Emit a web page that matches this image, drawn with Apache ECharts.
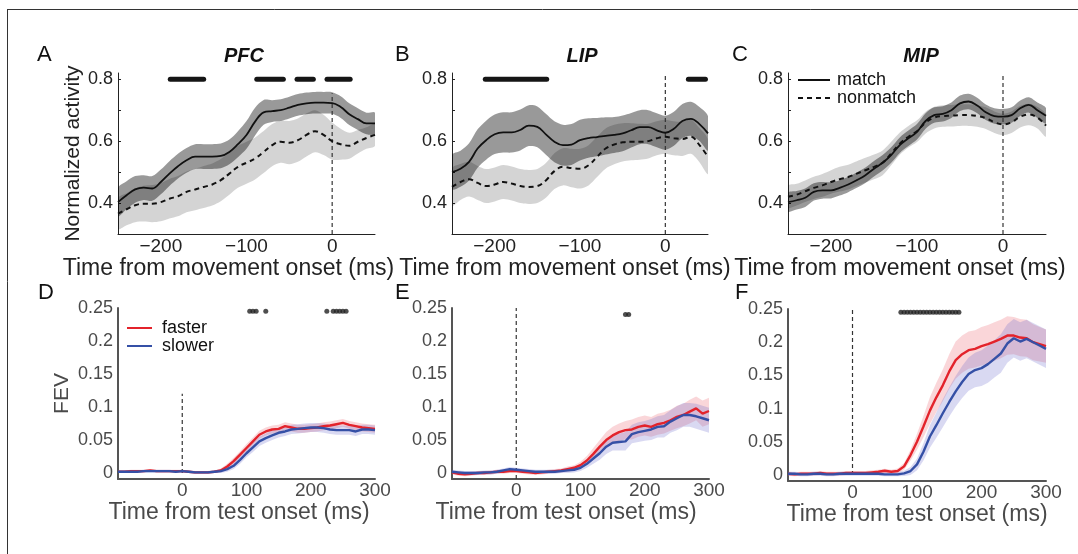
<!DOCTYPE html>
<html>
<head>
<meta charset="utf-8">
<script src="https://cdn.jsdelivr.net/npm/echarts@6/dist/echarts.min.js"></script>
<style>
  html, body { margin: 0; padding: 0; background: #fff; }
  #chart { width: 1078px; height: 554px; }
</style>
</head>
<body>
<div id="chart"></div>
<script>
// time bases
const tTop = [-250,-240,-230,-220,-210,-200,-190,-180,-170,-160,-150,-140,-130,-120,-110,-100,
  -90,-80,-70,-60,-50,-40,-30,-20,-10,0,10,20,30,40,50];
const tBot = [-100,-90,-80,-70,-60,-50,-40,-30,-20,-10,0,10,20,30,40,50,60,70,80,90,100,
  110,120,130,140,150,160,170,180,190,200,210,220,230,240,250,260,270,280,290,300];

// top row: normalized activity (match / nonmatch) with SEM
const pfcMatch = [0.403,0.425,0.444,0.45,0.447,0.468,0.495,0.519,0.538,0.55,0.55,0.55,0.552,0.565,0.59,0.62,
  0.663,0.693,0.697,0.70,0.708,0.717,0.722,0.724,0.724,0.723,0.71,0.687,0.671,0.657,0.657];
const pfcMatchErr = [0.045,0.045,0.043,0.04,0.04,0.04,0.04,0.04,0.04,0.04,0.04,0.04,0.04,0.04,0.042,0.045,
  0.045,0.04,0.035,0.035,0.035,0.035,0.035,0.035,0.035,0.035,0.035,0.035,0.035,0.035,0.035];
const pfcNon = [0.366,0.38,0.393,0.398,0.398,0.403,0.414,0.422,0.436,0.444,0.452,0.46,0.474,0.495,0.517,0.53,
  0.544,0.565,0.587,0.598,0.595,0.603,0.62,0.632,0.62,0.60,0.59,0.585,0.598,0.61,0.62];
const pfcNonErr = [0.05,0.052,0.055,0.058,0.06,0.062,0.064,0.065,0.066,0.067,0.068,0.068,0.068,0.068,0.068,0.068,
  0.068,0.068,0.068,0.068,0.07,0.07,0.07,0.068,0.065,0.06,0.05,0.042,0.038,0.035,0.035];

const lipMatch = [0.5,0.511,0.533,0.576,0.603,0.622,0.628,0.628,0.636,0.65,0.646,0.622,0.598,0.587,0.589,0.603,
  0.61,0.613,0.617,0.62,0.625,0.635,0.645,0.645,0.635,0.627,0.64,0.665,0.672,0.655,0.625];
const lipMatchErr = [0.055,0.058,0.06,0.062,0.063,0.064,0.065,0.065,0.066,0.066,0.066,0.066,0.066,0.066,0.066,0.066,
  0.064,0.062,0.06,0.058,0.058,0.056,0.055,0.055,0.055,0.055,0.055,0.055,0.055,0.055,0.055];
const lipNon = [0.452,0.468,0.477,0.465,0.455,0.46,0.468,0.463,0.455,0.452,0.455,0.473,0.503,0.517,0.513,0.511,
  0.522,0.549,0.576,0.589,0.596,0.598,0.598,0.6,0.609,0.614,0.609,0.607,0.614,0.587,0.549];
const lipNonErr = [0.06,0.058,0.056,0.055,0.055,0.055,0.055,0.055,0.055,0.055,0.055,0.056,0.058,0.06,0.062,0.064,
  0.065,0.065,0.065,0.064,0.062,0.06,0.058,0.056,0.055,0.055,0.055,0.055,0.055,0.055,0.055];

const mipMatch = [0.403,0.409,0.417,0.436,0.441,0.441,0.449,0.46,0.474,0.49,0.511,0.53,0.555,0.587,0.609,0.63,
  0.665,0.684,0.688,0.70,0.722,0.728,0.715,0.693,0.681,0.679,0.684,0.706,0.717,0.70,0.682];
const mipMatchErr = [0.03,0.03,0.03,0.028,0.027,0.026,0.025,0.025,0.025,0.025,0.025,0.025,0.025,0.025,0.025,0.025,
  0.025,0.025,0.025,0.025,0.025,0.025,0.025,0.025,0.025,0.025,0.025,0.025,0.025,0.025,0.025];
const mipNon = [0.42,0.427,0.438,0.449,0.457,0.468,0.477,0.484,0.495,0.506,0.517,0.53,0.56,0.592,0.614,0.632,
  0.66,0.676,0.681,0.682,0.684,0.684,0.681,0.674,0.661,0.654,0.661,0.679,0.686,0.676,0.65];
const mipNonErr = [0.035,0.035,0.035,0.036,0.037,0.038,0.04,0.04,0.04,0.04,0.04,0.04,0.038,0.036,0.035,0.035,
  0.035,0.035,0.035,0.035,0.035,0.035,0.035,0.035,0.035,0.035,0.035,0.035,0.035,0.035,0.035];

// bottom row: FEV for faster / slower
const pfcFast = [0.002,0.002,0.003,0.003,0.003,0.004,0.003,0.003,0.003,0.003,0.003,0.002,0.001,0.001,0.001,0.002,
  0.004,0.01,0.018,0.028,0.038,0.048,0.058,0.063,0.066,0.067,0.071,0.069,0.067,0.067,0.068,0.069,0.071,0.072,
  0.074,0.076,0.073,0.071,0.069,0.068,0.067];
const pfcFastErr = [0.002,0.002,0.002,0.002,0.002,0.002,0.002,0.002,0.002,0.002,0.002,0.002,0.002,0.002,0.002,0.002,
  0.003,0.004,0.005,0.005,0.006,0.006,0.006,0.006,0.006,0.006,0.006,0.006,0.006,0.006,0.006,0.006,0.006,0.006,
  0.006,0.006,0.006,0.006,0.006,0.006,0.006];
const pfcSlow = [0.002,0.002,0.002,0.002,0.003,0.003,0.003,0.003,0.003,0.002,0.003,0.002,0.001,0.001,0.001,0.002,
  0.003,0.006,0.011,0.02,0.03,0.039,0.048,0.053,0.057,0.061,0.063,0.066,0.067,0.068,0.069,0.069,0.068,0.066,
  0.065,0.065,0.065,0.063,0.066,0.066,0.065];
const pfcSlowErr = [0.002,0.002,0.002,0.002,0.002,0.002,0.002,0.002,0.002,0.002,0.002,0.002,0.002,0.002,0.002,0.002,
  0.003,0.004,0.005,0.006,0.006,0.007,0.007,0.007,0.007,0.007,0.007,0.007,0.007,0.007,0.007,0.007,0.007,0.007,
  0.007,0.007,0.007,0.007,0.007,0.007,0.007];

const lipFast = [0.001,-0.001,-0.002,-0.001,0.0,0.0,0.001,0.002,0.002,0.003,0.003,0.002,0.001,0.0,0.001,0.002,
  0.003,0.004,0.006,0.008,0.012,0.019,0.029,0.04,0.05,0.057,0.062,0.065,0.066,0.07,0.072,0.07,0.074,0.076,
  0.08,0.085,0.088,0.093,0.098,0.09,0.094];
const lipFastErr = [0.003,0.003,0.003,0.003,0.003,0.003,0.003,0.003,0.003,0.003,0.003,0.003,0.003,0.003,0.003,0.003,
  0.003,0.003,0.004,0.004,0.005,0.007,0.009,0.01,0.012,0.013,0.013,0.014,0.015,0.015,0.015,0.015,0.016,0.016,
  0.016,0.017,0.017,0.018,0.018,0.02,0.02];
const lipSlow = [0.002,0.001,0.0,0.0,0.0,0.001,0.001,0.002,0.004,0.006,0.005,0.004,0.003,0.002,0.002,0.002,
  0.002,0.003,0.004,0.005,0.008,0.014,0.022,0.03,0.04,0.046,0.047,0.048,0.059,0.062,0.064,0.066,0.07,0.071,
  0.078,0.083,0.088,0.088,0.086,0.083,0.08];
const lipSlowErr = [0.003,0.003,0.003,0.003,0.003,0.003,0.003,0.003,0.003,0.003,0.003,0.003,0.003,0.003,0.003,0.003,
  0.003,0.003,0.004,0.004,0.005,0.006,0.008,0.01,0.011,0.012,0.013,0.014,0.014,0.015,0.015,0.016,0.016,0.017,
  0.017,0.018,0.018,0.018,0.019,0.019,0.019];

const mipFast = [0.002,0.001,0.002,0.002,0.002,0.003,0.002,0.002,0.002,0.003,0.003,0.003,0.003,0.004,0.005,0.0065,
  0.005,0.006,0.013,0.03,0.05,0.073,0.097,0.117,0.135,0.156,0.173,0.182,0.188,0.19,0.194,0.197,0.201,0.205,
  0.21,0.21,0.207,0.206,0.2,0.197,0.194];
const mipFastErr = [0.003,0.003,0.003,0.003,0.003,0.003,0.003,0.003,0.003,0.003,0.003,0.003,0.003,0.003,0.003,0.003,
  0.003,0.004,0.005,0.008,0.012,0.016,0.02,0.022,0.024,0.026,0.028,0.028,0.028,0.028,0.029,0.029,0.029,0.029,
  0.029,0.028,0.028,0.028,0.027,0.026,0.025];
const mipSlow = [0.002,0.002,0.001,0.001,0.002,0.002,0.001,0.001,0.002,0.002,0.002,0.002,0.002,0.002,0.002,0.001,
  0.001,0.001,0.0025,0.006,0.016,0.035,0.058,0.075,0.093,0.11,0.126,0.14,0.152,0.158,0.161,0.167,0.175,0.183,
  0.198,0.206,0.201,0.205,0.2,0.195,0.19];
const mipSlowErr = [0.003,0.003,0.003,0.003,0.003,0.003,0.003,0.003,0.003,0.003,0.003,0.003,0.003,0.003,0.003,0.003,
  0.003,0.003,0.004,0.006,0.009,0.013,0.017,0.019,0.021,0.022,0.023,0.024,0.025,0.026,0.027,0.028,0.028,0.029,
  0.029,0.029,0.029,0.029,0.029,0.029,0.029];

// significance markers
const sigPfc = [[-189,-150],[-88,-57],[-41,-22],[-6,21]];
const sigLip = [[-211,-139],[27,47]];
const dotsPfc = [105,110,115,130,225,235,240,245,250,255];
const dotsLip = [170,175];
const dotsMip = [75,80,85,90,95,100,105,110,115,120,125,130,135,140,145,150,155,160,165];

const FONT = '"Liberation Sans", Arial, Helvetica, sans-serif';
const RED = '#e3232b';
const BLUE = '#3550a6';

const grids = [
  { left: 118, top: 73, width: 257, height: 161 },
  { left: 452, top: 73, width: 256, height: 161 },
  { left: 788, top: 73, width: 258, height: 161 },
  { left: 118, top: 308, width: 257, height: 171 },
  { left: 452, top: 308, width: 257, height: 171 },
  { left: 788, top: 309, width: 258, height: 172 }
];
// axis titles sit a little left of the plot centre in the figure
const nameShift = [36, 30, 34, 15, 29, 0];

const minus = v => String(v).replace('-', '\u2212');

const xAxes = [];
const yAxes = [];
for (let i = 0; i < 3; i++) {
  xAxes.push({
    gridIndex: i, type: 'value', min: -250, max: 50,
    axisLine: { show: true, onZero: false, lineStyle: { color: '#222', width: 1 } },
    axisTick: { show: false }, splitLine: { show: false },
    axisLabel: { customValues: [-200, -100, 0], formatter: minus, color: '#222', fontSize: 19, margin: 3, fontFamily: FONT },
    name: 'Time from movement onset (ms)', nameLocation: 'middle', nameGap: 5,
    nameTextStyle: { fontSize: 23, color: '#222', fontFamily: FONT, padding: [0, nameShift[i], 0, 0] }
  });
  yAxes.push({
    gridIndex: i, type: 'value', min: 0.3, max: 0.82,
    axisLine: { show: true, onZero: false, lineStyle: { color: '#222', width: 1 } },
    axisTick: { show: true, inside: true, length: 3, customValues: [0.3, 0.4, 0.5, 0.6, 0.7, 0.8], lineStyle: { color: '#222' } },
    splitLine: { show: false },
    axisLabel: { customValues: [0.4, 0.6, 0.8], formatter: v => v.toFixed(1), color: '#222', fontSize: 18, margin: 5, fontFamily: FONT },
    name: i === 0 ? 'Normalized activity' : '', nameLocation: 'middle', nameGap: 33,
    nameTextStyle: { fontSize: 21, color: '#222', fontFamily: FONT }
  });
}
for (let i = 3; i < 6; i++) {
  xAxes.push({
    gridIndex: i, type: 'value', min: -100, max: 300,
    axisLine: { show: true, onZero: false, lineStyle: { color: '#555', width: 2 } },
    axisTick: { show: false }, splitLine: { show: false },
    axisLabel: { customValues: [0, 100, 200, 300], color: '#4a4a4a', fontSize: 19, margin: 2, fontFamily: FONT },
    name: 'Time from test onset (ms)', nameLocation: 'middle', nameGap: 7,
    nameTextStyle: { fontSize: 23, color: '#4a4a4a', fontFamily: FONT, padding: [0, nameShift[i], 0, 0] }
  });
  yAxes.push({
    gridIndex: i, type: 'value', min: -0.009, max: 0.25,
    axisLine: { show: true, onZero: false, lineStyle: { color: '#555', width: 2 } },
    axisTick: { show: false }, splitLine: { show: false },
    axisLabel: { customValues: [0, 0.05, 0.1, 0.15, 0.2, 0.25], formatter: v => String(+v.toFixed(2)),
      color: '#4a4a4a', fontSize: 18, margin: 5, fontFamily: FONT },
    name: i === 3 ? 'FEV' : '', nameLocation: 'middle', nameGap: 45,
    nameTextStyle: { fontSize: 21, color: '#4a4a4a', fontFamily: FONT }
  });
}

// shaded error band drawn as one polygon through the axis scales
function band(idx, xs, mean, err, color, smooth) {
  const lo = mean.map((m, k) => m - err[k]);
  const hi = mean.map((m, k) => m + err[k]);
  return {
    type: 'custom', xAxisIndex: idx, yAxisIndex: idx, z: 1, silent: true, clip: true,
    data: xs.map((x, k) => [x, lo[k], hi[k]]),
    encode: { x: 0, y: [1, 2] },
    renderItem: function (params, api) {
      if (params.dataIndex !== 0) return null;
      const pts = [];
      for (let k = 0; k < xs.length; k++) pts.push(api.coord([xs[k], hi[k]]));
      for (let k = xs.length - 1; k >= 0; k--) pts.push(api.coord([xs[k], lo[k]]));
      return { type: 'polygon', shape: { points: pts, smooth: smooth }, style: { fill: color } };
    }
  };
}

function curve(idx, name, xs, ys, color, width, dash, smooth) {
  return {
    type: 'line', name: name, xAxisIndex: idx, yAxisIndex: idx, z: 3, silent: true,
    data: xs.map((x, k) => [x, ys[k]]), symbol: 'none', showSymbol: false, smooth: smooth,
    lineStyle: { color: color, width: width, type: dash }, itemStyle: { color: color }
  };
}

function vline(idx, y0, y1) {
  return {
    type: 'line', xAxisIndex: idx, yAxisIndex: idx, z: 2, silent: true, symbol: 'none',
    data: [[0, y0], [0, y1]], lineStyle: { color: '#333', width: 1.2, type: [4, 3] }
  };
}

function sigBars(idx, ranges) {
  return ranges.map(r => ({
    type: 'line', xAxisIndex: idx, yAxisIndex: idx, z: 4, silent: true, symbol: 'none',
    data: [[r[0], 0.8], [r[1], 0.8]], lineStyle: { color: '#151515', width: 5, cap: 'round' }
  }));
}

function dots(idx, xs, y) {
  return {
    type: 'scatter', xAxisIndex: idx, yAxisIndex: idx, z: 4, silent: true, symbolSize: 5,
    data: xs.map(x => [x, y]), itemStyle: { color: '#222' }
  };
}

const DARK = 'rgba(0,0,0,0.40)';
const LIGHT = 'rgba(0,0,0,0.17)';
const PINK = 'rgba(236,90,105,0.25)';
const LILAC = 'rgba(105,105,205,0.25)';

const topSets = [
  [pfcMatch, pfcMatchErr, pfcNon, pfcNonErr],
  [lipMatch, lipMatchErr, lipNon, lipNonErr],
  [mipMatch, mipMatchErr, mipNon, mipNonErr]
];
const botSets = [
  [pfcFast, pfcFastErr, pfcSlow, pfcSlowErr],
  [lipFast, lipFastErr, lipSlow, lipSlowErr],
  [mipFast, mipFastErr, mipSlow, mipSlowErr]
];

const series = [];
topSets.forEach((s, i) => {
  series.push(band(i, tTop, s[2], s[3], LIGHT, 0.3));
  series.push(band(i, tTop, s[0], s[1], DARK, 0.3));
  series.push(curve(i, 'match', tTop, s[0], '#111', 1.8, 'solid', 0.4));
  series.push(curve(i, 'nonmatch', tTop, s[2], '#111', 2, [5, 4], 0.4));
});
series.push(vline(0, 0.3, 0.755), vline(1, 0.3, 0.82), vline(2, 0.3, 0.82));
series.push(...sigBars(0, sigPfc), ...sigBars(1, sigLip));

botSets.forEach((s, j) => {
  const i = j + 3;
  series.push(band(i, tBot, s[0], s[1], PINK, 0));
  series.push(band(i, tBot, s[2], s[3], LILAC, 0));
  series.push(curve(i, 'faster', tBot, s[0], RED, 2.4, 'solid', false));
  series.push(curve(i, 'slower', tBot, s[2], BLUE, 2.4, 'solid', false));
});
series.push(vline(3, 0, 0.12), vline(4, -0.009, 0.25), vline(5, 0, 0.25));
series.push(dots(3, dotsPfc, 0.245), dots(4, dotsLip, 0.240), dots(5, dotsMip, 0.245));

function label(text, x, y, extra) {
  return {
    type: 'text', x: x, y: y, silent: true,
    style: Object.assign({ text: text, fontSize: 22, fontFamily: FONT, fill: '#111', verticalAlign: 'top', align: 'left' }, extra || {})
  };
}
const titleStyle = { fontSize: 20, fontWeight: 'bold', fontStyle: 'italic', align: 'center' };

const legendBase = {
  orient: 'vertical', padding: 0, itemHeight: 14, itemGap: 0, selectedMode: false,
  itemStyle: { opacity: 0, color: 'rgba(0,0,0,0)', borderWidth: 0 }
};

const chart = echarts.init(document.getElementById('chart'), null, { renderer: 'canvas' });
chart.setOption({
  animation: false,
  backgroundColor: '#fff',
  grid: grids,
  xAxis: xAxes,
  yAxis: yAxes,
  legend: [
    Object.assign({}, legendBase, {
      data: ['match', 'nonmatch'], left: 797, top: 71, itemWidth: 32,
      textStyle: { fontSize: 18, color: '#111', fontFamily: FONT, lineHeight: 18, padding: [0, 0, 0, 2] }
    }),
    Object.assign({}, legendBase, {
      data: ['faster', 'slower'], left: 126, top: 319, itemWidth: 25,
      textStyle: { fontSize: 18, color: '#111', fontFamily: FONT, lineHeight: 18, padding: [0, 0, 0, 5] }
    })
  ],
  graphic: [
    { type: 'line', silent: true, shape: { x1: 7, y1: 9.5, x2: 1078, y2: 9.5 }, style: { stroke: '#333', lineWidth: 1 } },
    { type: 'line', silent: true, shape: { x1: 7.5, y1: 9, x2: 7.5, y2: 554 }, style: { stroke: '#333', lineWidth: 1 } },
    label('A', 37, 44), label('B', 395, 44), label('C', 732, 44),
    label('D', 38, 282), label('E', 395, 282), label('F', 735, 282),
    label('PFC', 244, 46, titleStyle), label('LIP', 582, 46, titleStyle), label('MIP', 921, 46, titleStyle)
  ],
  series: series
});
</script>
</body>
</html>
